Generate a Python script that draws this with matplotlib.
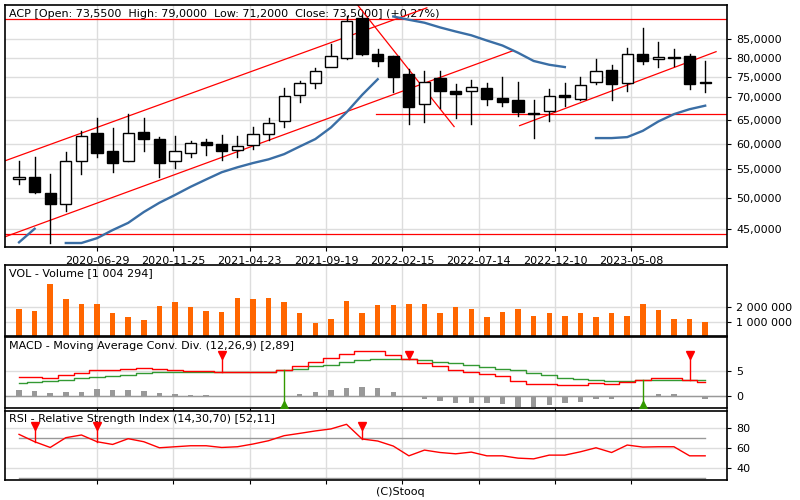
import numpy as np
import pandas as pd
import matplotlib
matplotlib.use("Agg")
import matplotlib.pyplot as plt

plt.rcParams['font.family'] = ['DejaVu Sans']

# monthly candles (open, high, low, close)
opens = [53.3, 53.6, 50.9, 49.0, 56.5, 62.2, 58.5, 56.5, 62.4, 61.0, 56.6, 58.2, 60.4, 59.9, 58.8,
         59.8, 62.0, 64.6, 70.6, 73.4, 77.6, 80.0, 91.3, 81.0, 80.3, 75.6, 68.4, 74.6, 71.6, 71.6,
         72.3, 69.8, 69.3, 66.4, 66.8, 70.5, 69.7, 73.6, 76.7, 73.4, 81.0, 79.6, 80.2, 80.3, 73.55]
highs = [56.5, 57.3, 54.2, 58.4, 62.6, 65.4, 63.2, 66.2, 65.4, 61.4, 61.5, 60.6, 61.0, 61.7, 61.5,
         63.5, 65.4, 72.3, 74.0, 77.3, 83.6, 91.8, 92.4, 82.4, 80.3, 77.0, 76.6, 76.4, 73.3, 74.2,
         73.5, 75.0, 73.7, 69.3, 71.9, 73.5, 75.0, 79.5, 78.0, 82.7, 88.2, 84.4, 82.2, 81.0, 79.0]
lows = [52.4, 50.9, 43.0, 47.9, 54.1, 57.4, 54.6, 56.5, 58.5, 53.6, 55.2, 57.4, 57.8, 56.8, 57.4,
        59.0, 60.7, 63.5, 68.9, 72.2, 77.7, 79.5, 80.8, 77.9, 71.3, 64.1, 64.4, 67.5, 65.4, 64.0,
        68.3, 68.0, 65.7, 61.1, 64.6, 68.0, 69.3, 73.2, 69.5, 71.6, 78.3, 77.5, 77.9, 71.9, 71.2]
closes = [53.6, 51.0, 49.0, 56.5, 61.5, 58.2, 56.3, 62.2, 61.0, 56.3, 58.5, 60.2, 59.8, 58.5, 59.6,
          61.9, 64.3, 70.3, 73.4, 76.6, 80.4, 90.4, 81.0, 79.2, 75.0, 67.9, 73.7, 71.6, 70.8, 72.6,
          69.6, 69.0, 66.6, 66.2, 70.3, 70.0, 73.0, 76.6, 73.2, 81.0, 79.0, 80.2, 80.0, 73.3, 73.5]
nan = np.nan
ma = [43.1, 45.1, nan, 43.0, 43.0, 43.7, 44.9, 46.0, 47.7, 49.2, 50.5, 51.9, 53.2, 54.5, 55.4,
      56.2, 56.9, 57.9, 59.4, 60.9, 63.3, 66.6, 70.6, 74.4, 91.8, 90.8, 89.9, 88.5, 87.3, 86.2,
      84.7, 83.3, 81.3, 79.1, 78.1, 77.5, nan, 61.1, 61.1, 61.3, 62.6, 64.6, 66.2, 67.3, 68.1]
ma_breaks = [2, 24, 37]
volume = [1.87, 1.72, 3.57, 2.52, 2.20, 2.20, 1.61, 1.28, 1.13, 2.05, 2.37, 2.00, 1.72, 1.67, 2.59,
          2.52, 2.59, 2.33, 1.56, 0.91, 1.20, 2.45, 1.56, 2.11, 2.12, 2.20, 2.20, 1.61, 2.00, 1.87,
          1.28, 1.67, 1.87, 1.41, 1.56, 1.37, 1.56, 1.28, 1.61, 1.41, 2.20, 1.80, 1.20, 1.15, 1.00]
macd = [3.9, 3.9, 3.7, 4.2, 4.6, 5.2, 5.2, 5.5, 5.7, 5.4, 5.2, 5.1, 5.0, 4.8, 4.8,
        4.8, 4.8, 5.3, 6.0, 6.9, 7.6, 8.4, 9.0, 9.0, 8.3, 7.4, 6.7, 6.0, 5.3, 4.9,
        4.5, 4.0, 3.1, 2.5, 2.5, 2.3, 2.3, 2.7, 2.5, 2.9, 3.3, 3.7, 3.7, 3.3, 2.8]
signal = [2.7, 2.8, 3.1, 3.3, 3.7, 3.8, 4.0, 4.3, 4.6, 4.8, 4.8, 4.8, 4.8, 4.8, 4.8,
          4.8, 4.8, 5.2, 5.5, 6.0, 6.3, 6.8, 7.2, 7.4, 7.4, 7.4, 7.2, 6.9, 6.6, 6.2,
          5.9, 5.5, 5.2, 4.7, 4.2, 3.7, 3.5, 3.3, 3.1, 3.1, 3.3, 3.3, 3.3, 3.3, 3.3]
rsi = [73.3, 66.0, 60.3, 70.0, 72.7, 66.0, 63.3, 69.0, 66.0, 60.0, 61.0, 62.0, 62.0, 60.3, 61.0,
       63.7, 67.0, 72.0, 74.3, 76.7, 78.7, 83.3, 68.7, 66.7, 61.7, 52.0, 57.7, 55.3, 54.0, 55.7,
       52.0, 52.0, 49.7, 49.0, 52.7, 52.7, 56.0, 60.0, 55.3, 62.7, 60.7, 61.0, 61.0, 52.0, 52.0]
macd_sell = [13, 25, 43]
macd_buy = [17, 40]
rsi_sell = [1, 5, 22]

date_labels = ['2020-06-29', '2020-11-25', '2021-04-23', '2021-09-19',
               '2022-02-15', '2022-07-14', '2022-12-10', '2023-05-08']
# trend lines: (index, price) pairs
trend_lines = [((-1.2, 56.3), (26.15, 94.5)),
               ((-0.9, 43.9), (31.7, 81.9)),
               ((32.1, 63.7), (44.7, 81.6)),
               ((21.3, 98.0), (27.9, 63.5)),
               ((-2, 91.0), (47, 91.0)),
               ((-2, 44.3), (47, 44.3)),
               ((22.9, 66.2), (47, 66.2))]

n = len(closes)
x = np.arange(n)
d0 = pd.Timestamp('2020-06-29')
tick_pos = [5 + (pd.Timestamp(d) - d0).days / 30.44 for d in date_labels]
xlim = (-0.9, 45.4)
grid_c = '#dddddd'

fig = plt.figure(figsize=(8, 5), dpi=100)
ax = fig.add_axes([0.00625, 0.507, 0.9025, 0.483])
av = fig.add_axes([0.00625, 0.328, 0.9025, 0.142])
am = fig.add_axes([0.00625, 0.184, 0.9025, 0.142])
ar = fig.add_axes([0.00625, 0.040, 0.9025, 0.139])

for a in (ax, av, am, ar):
    a.set_xlim(*xlim)
    a.yaxis.tick_right()
    a.tick_params(labelsize=8, length=3, direction='out')
    for t in tick_pos:
        a.axvline(t, color=grid_c, lw=1, zorder=0)
    a.set_xticks(tick_pos)
    a.set_xticklabels([])
    for s in a.spines.values():
        s.set_linewidth(1.2)

# main price panel
ax.set_yscale('log')
ax.set_ylim(42.5, 95.4)
yt = [45, 50, 55, 60, 65, 70, 75, 80, 85]
ax.set_yticks(yt)
ax.set_yticklabels([f'{v},0000' for v in yt])
ax.minorticks_off()
for v in yt:
    ax.axhline(v, color=grid_c, lw=1, zorder=0)
ax.set_xticklabels(date_labels, fontsize=8)
ax.tick_params(axis='x', length=3)

for (x1, y1), (x2, y2) in trend_lines:
    ax.plot([x1, x2], [y1, y2], color='red', lw=0.9, zorder=1)

seg_start = 0
for b in ma_breaks + [n]:
    seg = slice(seg_start, b)
    ax.plot(x[seg], np.array(ma[seg]), color='#3a6ea5', lw=1.7, zorder=2)
    seg_start = b

for i in range(n):
    o, h, l, c = opens[i], highs[i], lows[i], closes[i]
    ax.plot([i, i], [l, h], color='black', lw=1, zorder=3)
    col = 'white' if c >= o else 'black'
    ax.bar(i, abs(c - o) if abs(c - o) > 0.15 else 0.15, bottom=min(o, c), width=0.72,
           color=col, edgecolor='black', lw=1, zorder=4)

ax.text(0.005, 0.985, 'ACP [Open: 73,5500  High: 79,0000  Low: 71,2000  Close: 73,5000] (+0,27%)',
        transform=ax.transAxes, fontsize=8, va='top', ha='left', zorder=0.5)

# volume panel
av.set_ylim(0, 4.9)
av.set_yticks([1, 2])
av.set_yticklabels(['1 000 000', '2 000 000'])
for v in [1, 2]:
    av.axhline(v, color=grid_c, lw=1, zorder=0)
av.bar(x, volume, width=0.35, color='#ff6600', zorder=2)
av.text(0.005, 0.95, 'VOL - Volume [1 004 294]', transform=av.transAxes, fontsize=8, va='top')

# MACD panel
am.set_ylim(-2.4, 11.8)
am.set_yticks([0, 5])
for v in [0, 5]:
    am.axhline(v, color=grid_c, lw=1, zorder=0)
am.axhline(0, color='#999999', lw=1, zorder=1)
hist = np.array(macd) - np.array(signal)
am.bar(x, hist, width=0.35, color='#999999', zorder=2)
am.plot(x, signal, color='#339933', lw=1, drawstyle='steps-mid', zorder=3)
am.plot(x, macd, color='red', lw=1, drawstyle='steps-mid', zorder=4)
for i in macd_sell:
    am.plot([i, i], [macd[i], 8.1], color='red', lw=1, zorder=5)
    am.plot(i, 8.3, marker='v', color='red', ms=6, zorder=6)
for i in macd_buy:
    am.plot([i, i], [-1.8, signal[i]], color='#339900', lw=1, zorder=5)
    am.plot(i, -1.8, marker='^', color='#339900', ms=6, zorder=6)
am.text(0.005, 0.95, 'MACD - Moving Average Conv. Div. (12,26,9) [2,89]', transform=am.transAxes,
        fontsize=8, va='top')

# RSI panel
ar.set_ylim(28, 97)
ar.set_yticks([40, 60, 80])
for v in [40, 60, 80]:
    ar.axhline(v, color=grid_c, lw=1, zorder=0)
ar.plot([x[0], x[-1]], [70, 70], color='#999999', lw=1, zorder=1)
ar.plot([x[0], x[-1]], [30, 30], color='#999999', lw=1, zorder=1)
ar.plot(x, rsi, color='red', lw=1, zorder=3)
for i in rsi_sell:
    ar.plot([i, i], [rsi[i], 81], color='red', lw=1, zorder=4)
    ar.plot(i, 82, marker='v', color='red', ms=6, zorder=5)
ar.text(0.005, 0.95, 'RSI - Relative Strength Index (14,30,70) [52,11]', transform=ar.transAxes,
        fontsize=8, va='top')

fig.text(0.5, 0.016, '(C)Stooq', ha='center', va='center', fontsize=8)
fig.savefig('out.png', dpi=100)
